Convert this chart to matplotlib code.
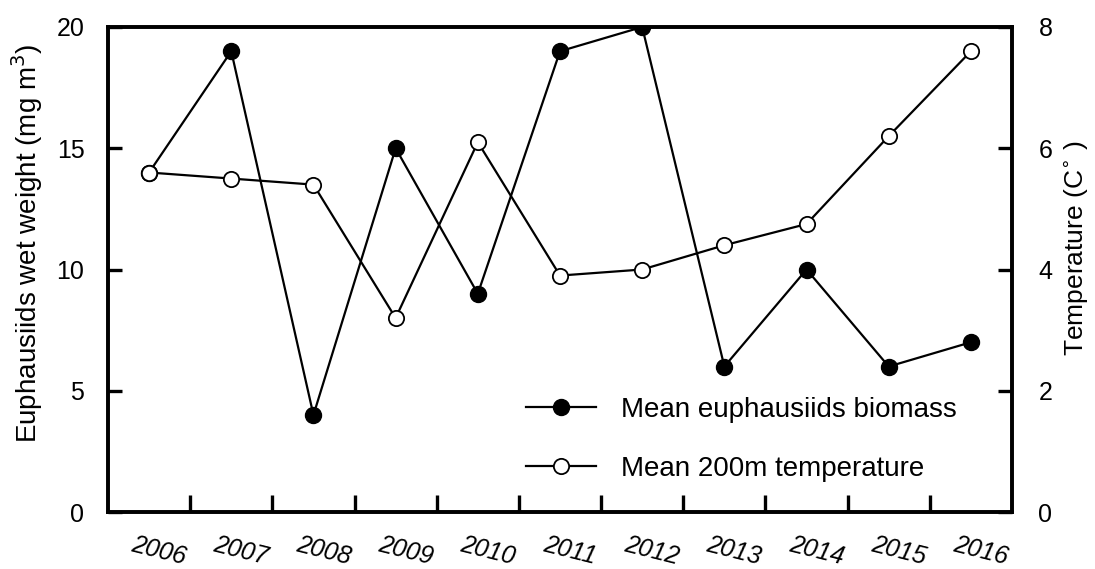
import matplotlib
matplotlib.use("Agg")
import matplotlib.pyplot as plt
import numpy as np

plt.rcParams['font.family'] = ['Liberation Sans', 'DejaVu Sans']

years = ["2006", "2007", "2008", "2009", "2010", "2011", "2012", "2013", "2014", "2015", "2016"]
biomass = [14, 19, 4, 15, 9, 19, 20, 6, 10, 6, 7]
temperature = [5.6, 5.5, 5.4, 3.2, 6.1, 3.9, 4.0, 4.4, 4.75, 6.2, 7.6]

fig = plt.figure(figsize=(10.95, 5.69), dpi=100)
ax = fig.add_axes([108/1095, 1 - 512/569, (1012-108)/1095, (512-27)/569])
ax2 = ax.twinx()

x = np.arange(len(years))
l1, = ax.plot(x, biomass, color='black', lw=1.6, marker='o', ms=11.5,
              mfc='black', mec='black', zorder=3, label='Mean euphausiids biomass')
l2, = ax2.plot(x, temperature, color='black', lw=1.6, marker='o', ms=11,
               mfc='white', mec='black', mew=1.3, zorder=3, label='Mean 200m temperature')

ax.set_xlim(-0.5, len(years) - 0.5)
ax.set_ylim(0, 20)
ax2.set_ylim(0, 8)
ax.set_yticks([0, 5, 10, 15, 20])
ax2.set_yticks([0, 2, 4, 6, 8])
ax.set_xticks(np.arange(0.5, len(years) - 0.5, 1))
ax.set_xticklabels([])

for a in (ax, ax2):
    for s in a.spines.values():
        s.set_linewidth(2.6)
ax.tick_params(axis='y', direction='in', length=10, width=2.4, labelsize=18, pad=17)
ax.tick_params(axis='x', direction='in', length=12, width=2.4)
ax2.tick_params(axis='y', direction='in', length=10, width=2.4, labelsize=18, pad=19)

for xi, lab in zip(x, years):
    ax.text(xi + 0.12, -1.6, lab, rotation=-14, ha='center', va='center', fontsize=18,
            style='italic', rotation_mode='anchor')

ax.set_ylabel('Euphausiids wet weight (mg m$^{3}$)', fontsize=20)
ax2.set_ylabel('Temperature (C$^{\\circ}$ )', fontsize=19)
ax.yaxis.set_label_coords(-0.0896, 0.555)
ax2.yaxis.set_label_coords(1.0708, 0.544)
ax.yaxis.label.set_va('center')
ax2.yaxis.label.set_va('center')

ax.legend(handles=[l1, l2], loc='lower right', bbox_to_anchor=(0.96, 0.022),
          frameon=False, fontsize=20, handlelength=2.5, labelspacing=1.2,
          handletextpad=0.9, borderpad=0.2)

fig.savefig('out.png', dpi=100)
